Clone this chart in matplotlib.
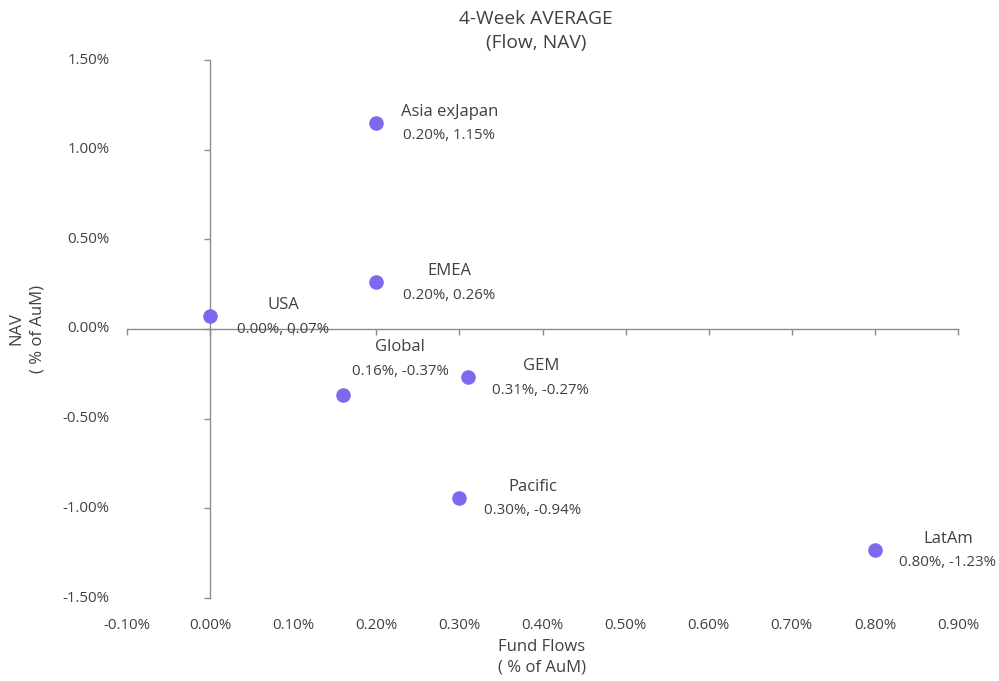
import matplotlib
matplotlib.use("Agg")
import matplotlib.pyplot as plt
from matplotlib.transforms import blended_transform_factory

regions = ["Asia exJapan", "EMEA", "USA", "Global", "GEM", "Pacific", "LatAm"]
flows = [0.20, 0.20, 0.00, 0.16, 0.31, 0.30, 0.80]
navs = [1.15, 0.26, 0.07, -0.37, -0.27, -0.94, -1.23]
x_ticks = [-0.10, 0.00, 0.10, 0.20, 0.30, 0.40, 0.50, 0.60, 0.70, 0.80, 0.90]
y_ticks = [-1.50, -1.00, -0.50, 0.00, 0.50, 1.00, 1.50]
# label offsets in pixels (x, y of name line)
label_off = {"Global": (57, 48)}

plt.rcParams['font.family'] = ['Open Sans', 'DejaVu Sans']
TXT = '#404040'
AX = '#8c8c8c'
PT = '#7B69EE'

fig = plt.figure(figsize=(9.99, 6.81), dpi=100)
W, H = 999, 681
ax = fig.add_axes([127 / W, 1 - 598 / H, (958 - 127) / W, (598 - 60) / H])
ax.set_xlim(-0.10, 0.90)
ax.set_ylim(-1.50, 1.50)

for s in ['top', 'right']:
    ax.spines[s].set_visible(False)
ax.spines['left'].set_position(('data', 0))
ax.spines['bottom'].set_position(('data', 0))
for s in ['left', 'bottom']:
    ax.spines[s].set_color(AX)
    ax.spines[s].set_linewidth(1.0)
ax.set_xticks(x_ticks)
ax.set_yticks(y_ticks)
ax.tick_params(axis='both', direction='out', length=4.5, width=1.0, color=AX,
               labelleft=False, labelbottom=False)

# tick labels at the low position
tx = blended_transform_factory(ax.transData, ax.transAxes)
for v in x_ticks:
    ax.text(v, -0.052, f"{v:.2f}%", transform=tx, ha='center', va='center',
            fontsize=10.8, color=TXT)
ty = blended_transform_factory(ax.transAxes, ax.transData)
for v in y_ticks:
    ax.text(-0.021, v, f"{v:.2f}%", transform=ty, ha='right', va='center',
            fontsize=10.8, color=TXT)

ax.scatter(flows, navs, s=110, color=PT, zorder=5, linewidths=0)

for name, fx, nv in zip(regions, flows, navs):
    dx, dy = label_off.get(name, (73, 11))
    ax.annotate(name, (fx, nv), xytext=(dx, dy), textcoords='offset pixels',
                ha='center', va='center', fontsize=12, color=TXT, zorder=6)
    ax.annotate(f"{fx:.2f}%, {nv:.2f}%", (fx, nv), xytext=(dx, dy - 24),
                textcoords='offset pixels', ha='center', va='center',
                fontsize=10.8, color=TXT, zorder=6)

fig.text(536 / W, 1 - 31 / H, "4-Week AVERAGE\n(Flow, NAV)", ha='center', va='center',
         fontsize=13.8, color=TXT, linespacing=1.45)
fig.text(542 / W, 1 - 657 / H, "Fund Flows\n( % of AuM)", ha='center', va='center',
         fontsize=12, color=TXT, linespacing=1.4)
fig.text(27 / W, 1 - 329 / H, "NAV\n( % of AuM)", ha='center', va='center',
         fontsize=12, color=TXT, rotation=90, linespacing=1.4)

fig.savefig("out.png", dpi=100, facecolor='white')
